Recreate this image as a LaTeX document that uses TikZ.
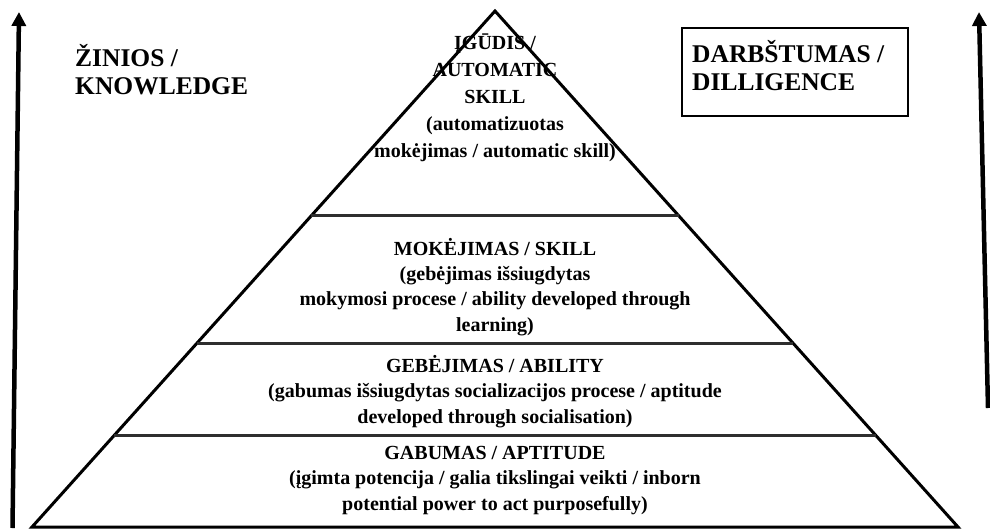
\documentclass[tikz,border=0pt]{standalone}
\usepackage{fontspec}
\setmainfont{Liberation Serif}[BoldFont={Liberation Serif Bold}]
\newfontfamily\timesface{Liberation Serif}[BoldFont={Liberation Serif Bold}]
\usetikzlibrary{arrows.meta,calc}
\begin{document}
\begin{tikzpicture}[x=1pt,y=-1pt,
  edge/.style={line width=3pt, line join=miter},
  tier/.style={line width=3pt, draw=black!82},
  tiertext/.style={font=\timesface\bfseries\fontsize{20}{25.3}\selectfont, align=center, inner sep=0pt, anchor=base},
  toptext/.style={tiertext, font=\timesface\bfseries\fontsize{20}{27}\selectfont},
  heading/.style={font=\timesface\bfseries\fontsize{25.5}{28}\selectfont, align=left, inner sep=0pt, anchor=base west},
  uparrow/.style={line width=4.5pt, -{Triangle[width=14pt,length=14pt]}}]
\useasboundingbox (0,0) rectangle (990,528);

% pyramid outline
\coordinate (apex) at (495,11);
\coordinate (bl) at (32,527);
\coordinate (br) at (958,527);
\draw[edge] (apex) -- (bl) -- (br) -- cycle;

% tier boundaries
\coordinate (t1l) at ($(apex)!0.3965!(bl)$);
\coordinate (t1r) at ($(apex)!0.3965!(br)$);
\coordinate (t2l) at ($(apex)!0.6441!(bl)$);
\coordinate (t2r) at ($(apex)!0.6441!(br)$);
\coordinate (t3l) at ($(apex)!0.8221!(bl)$);
\coordinate (t3r) at ($(apex)!0.8221!(br)$);
\draw[tier] (t1l) -- (t1r);
\draw[tier] (t2l) -- (t2r);
\draw[tier] (t3l) -- (t3r);

% tier labels (anchored at the baseline of the last line)
\node[toptext] (igudis) at (495,157) {ĮGŪDIS /\\AUTOMATIC\\SKILL\\(automatizuotas\\mokėjimas / automatic skill)};
\node[tiertext] (mokejimas) at (495,331) {MOKĖJIMAS / SKILL\\(gebėjimas išsiugdytas\\mokymosi procese / ability developed through\\learning)};
\node[tiertext] (gebejimas) at (495,423) {GEBĖJIMAS / ABILITY\\(gabumas išsiugdytas socializacijos procese / aptitude\\developed through socialisation)};
\node[tiertext] (gabumas) at (495,510) {GABUMAS / APTITUDE\\(įgimta potencija / galia tikslingai veikti / inborn\\potential power to act purposefully)};

% side headings
\node[heading] (ziniosnode) at (75,94) {ŽINIOS /\\KNOWLEDGE};
\node[heading] (darbstumas) at (692,90) {DARBŠTUMAS /\\DILLIGENCE};
\draw[line width=1.6pt] (682,28) rectangle (908,116);

% vertical arrows
\coordinate (la0) at (12.5,528);
\coordinate (la1) at (19,12);
\coordinate (ra0) at (988,408);
\coordinate (ra1) at (979,12);
\draw[uparrow] (la0) -- (la1);
\draw[uparrow] (ra0) -- (ra1);
\end{tikzpicture}
\end{document}
